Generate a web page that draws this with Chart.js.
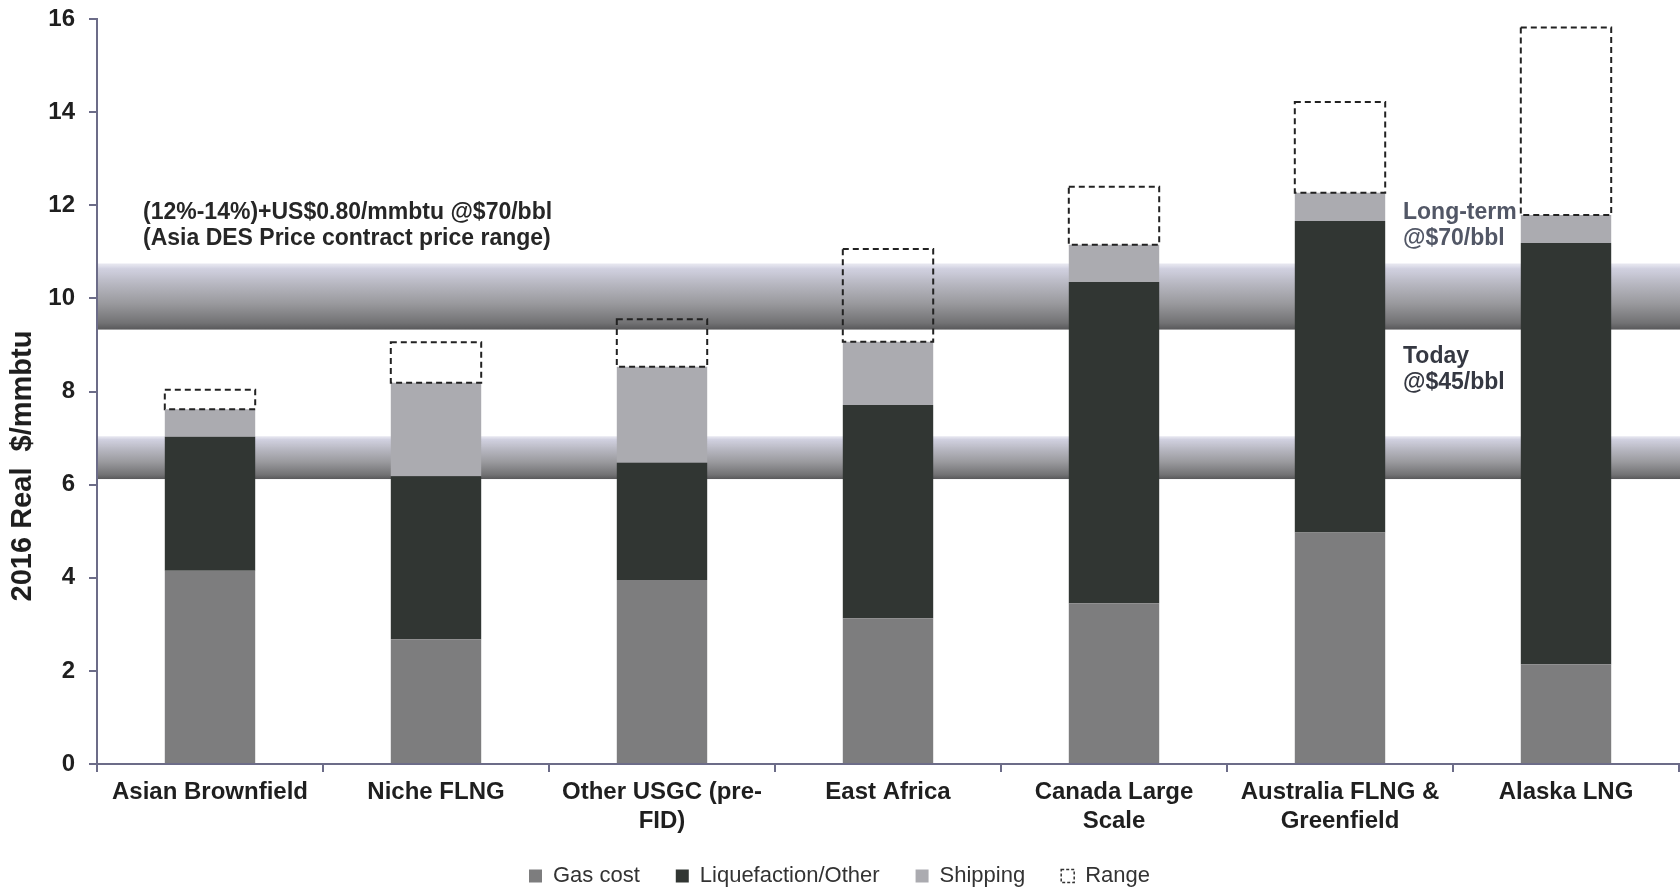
<!DOCTYPE html>
<html>
<head>
<meta charset="utf-8">
<title>LNG supply cost by project</title>
<script src="https://cdn.jsdelivr.net/npm/chart.js@4/dist/chart.umd.min.js"></script>
<style>
  html, body { margin: 0; padding: 0; background: #ffffff; }
  #wrap { width: 1680px; height: 888px; }
</style>
</head>
<body>
<div id="wrap"><canvas id="lng" width="1680" height="888"></canvas></div>
<script>
// Project categories (multi-line where the label wraps)
const categories = [
  'Asian Brownfield',
  'Niche FLNG',
  ['Other USGC (pre-', 'FID)'],
  'East Africa',
  ['Canada Large', 'Scale'],
  ['Australia FLNG &', 'Greenfield'],
  'Alaska LNG'
];

// Cost components, 2016 real $/mmbtu
const gasCost      = [4.15, 2.68, 3.95, 3.13, 3.45, 4.97, 2.14];
const liquefaction = [2.88, 3.50, 2.52, 4.58, 6.90, 6.69, 9.05];
const shipping     = [0.59, 2.01, 2.06, 1.36, 0.80, 0.61, 0.60];
// Upper end of each project's cost range
const rangeTop     = [8.04, 9.06, 9.55, 11.06, 12.40, 14.22, 15.82];

// Asia DES contract price bands [low, high]
const todayBand    = [6.12, 7.04];
const longTermBand = [9.33, 10.75];

// Y axis ticks
const yMin = 0, yMax = 16, yStep = 2;

// Range segment sits on top of the stacked cost
const rangeSpan = rangeTop.map((t, i) => +(t - (gasCost[i] + liquefaction[i] + shipping[i])).toFixed(2));

const FONT = '"Liberation Sans", Arial, Helvetica, sans-serif';
const AXIS = '#6c6c88';
const INK = '#1f1f1f';

// Shaded price bands behind the bars
const bandPlugin = {
  id: 'priceBands',
  beforeDatasetsDraw(chart) {
    const { ctx, chartArea: ca, scales: { y } } = chart;
    [todayBand, longTermBand].forEach(([lo, hi]) => {
      const yTop = y.getPixelForValue(hi);
      const yBot = y.getPixelForValue(lo);
      const g = ctx.createLinearGradient(0, yTop, 0, yBot);
      g.addColorStop(0.00, 'rgba(218,218,232,0.6)');
      g.addColorStop(0.08, 'rgba(206,206,222,0.95)');
      g.addColorStop(0.30, '#b8b8c2');
      g.addColorStop(0.60, '#9a9a9e');
      g.addColorStop(0.90, '#727274');
      g.addColorStop(1.00, '#58585a');
      ctx.save();
      ctx.fillStyle = g;
      ctx.fillRect(ca.left + 1, yTop, ca.right - ca.left, yBot - yTop);
      ctx.restore();
    });
  }
};

// Dashed outline for the range segment
const rangeOutline = {
  id: 'rangeOutline',
  afterDatasetsDraw(chart) {
    const meta = chart.getDatasetMeta(3);
    const { ctx } = chart;
    ctx.save();
    ctx.strokeStyle = '#222';
    ctx.lineWidth = 2;
    ctx.setLineDash([6, 4]);
    meta.data.forEach(el => {
      const { x, y, base, width } = el.getProps(['x', 'y', 'base', 'width'], true);
      ctx.strokeRect(x - width / 2, y, width, base - y);
    });
    ctx.restore();
  }
};

// Let the two-line category labels run below the axis box without being cut
const labelRoom = {
  id: 'labelRoom',
  afterLayout(chart) {
    chart.scales.x.bottom = chart.height;
  }
};

// Text notes and the vertical axis title
const notes = {
  id: 'notes',
  afterDraw(chart) {
    const { ctx } = chart;
    ctx.save();
    ctx.textBaseline = 'middle';
    ctx.textAlign = 'left';
    ctx.font = 'bold 23px ' + FONT;
    ctx.fillStyle = '#262626';
    ctx.fillText('(12%-14%)+US$0.80/mmbtu @$70/bbl', 143, 213);
    ctx.fillText('(Asia DES Price contract price range)', 143, 239);
    ctx.fillStyle = '#525766';
    ctx.fillText('Long-term', 1403, 213);
    ctx.fillText('@$70/bbl', 1403, 239);
    ctx.fillStyle = '#353842';
    ctx.fillText('Today', 1403, 357);
    ctx.fillText('@$45/bbl', 1403, 383);

    ctx.translate(23, 466);
    ctx.rotate(-Math.PI / 2);
    ctx.textAlign = 'center';
    ctx.font = 'bold 29px ' + FONT;
    ctx.fillStyle = INK;
    ctx.fillText('2016 Real  $/mmbtu', 0, 0);
    ctx.restore();
  }
};

new Chart(document.getElementById('lng'), {
  type: 'bar',
  data: {
    labels: categories,
    datasets: [
      { label: 'Gas cost', data: gasCost, backgroundColor: '#7d7d7e' },
      { label: 'Liquefaction/Other', data: liquefaction, backgroundColor: '#313633' },
      { label: 'Shipping', data: shipping, backgroundColor: '#ababb0' },
      { label: 'Range', data: rangeSpan, backgroundColor: 'rgba(0,0,0,0)', borderWidth: 0 }
    ]
  },
  options: {
    responsive: false,
    devicePixelRatio: 1,
    animation: false,
    categoryPercentage: 1,
    barPercentage: 0.4,
    layout: { padding: { top: 19, right: 1, bottom: -9, left: 0 } },
    scales: {
      x: {
        stacked: true,
        grid: { drawOnChartArea: false, drawTicks: true, tickLength: 8, color: AXIS, lineWidth: 2, offset: true },
        border: { display: true, color: AXIS, width: 2 },
        ticks: { font: { family: FONT, size: 24, weight: 'bold' }, color: INK, padding: 6, maxRotation: 0, autoSkip: false },
        afterFit(scale) { scale.height = 65; }
      },
      y: {
        stacked: true,
        min: yMin,
        max: yMax,
        grid: { drawOnChartArea: false, drawTicks: true, tickLength: 8, color: AXIS, lineWidth: 2 },
        border: { display: true, color: AXIS, width: 2 },
        ticks: { stepSize: yStep, font: { family: FONT, size: 24, weight: 'bold' }, color: INK, padding: 14 },
        afterFit(scale) {
          scale.width = 97;
          scale.paddingTop = 0;
          scale.paddingBottom = 0;
        }
      }
    },
    plugins: {
      tooltip: { enabled: false },
      legend: {
        position: 'bottom',
        labels: {
          font: { family: FONT, size: 22 },
          color: '#333333',
          boxWidth: 13,
          boxHeight: 13,
          padding: 36,
          generateLabels(chart) {
            const items = Chart.defaults.plugins.legend.labels.generateLabels(chart);
            items.forEach(it => {
              if (it.datasetIndex === 3) {
                it.fillStyle = 'rgba(0,0,0,0)';
                it.strokeStyle = '#333';
                it.lineWidth = 1.5;
                it.lineDash = [3, 2];
              } else {
                it.lineWidth = 0;
              }
            });
            return items;
          }
        }
      }
    }
  },
  plugins: [bandPlugin, rangeOutline, labelRoom, notes]
});
</script>
</body>
</html>
